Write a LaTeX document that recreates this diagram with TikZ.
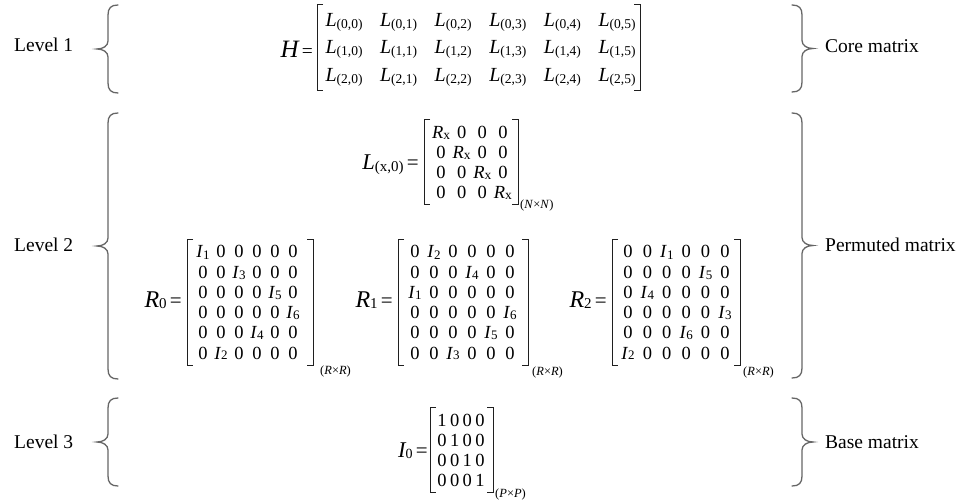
\documentclass[tikz,border=0pt]{standalone}
\usepackage{fontspec}
\setmainfont{Liberation Serif}
\usetikzlibrary{matrix}
\newcommand\fsz[1]{\fontsize{#1}{#1}\selectfont}
\newcommand\Lsb[1]{\textit{L}\raisebox{-2pt}{\fsz{13.5}(#1)}}
\newcommand\Isb[1]{\textit{I}\raisebox{-1pt}{\fsz{13}#1}}
\newcommand\Rxx{\textit{R}\raisebox{-1pt}{\fsz{13.5}x}}
\newcommand\lcurly[3]{%
  \pgfmathsetmacro\bmid{(#2+#3)/2}%
  \draw[brc] (#1,#2) .. controls (#1-7,#2) and (#1-10,#2+3) .. (#1-10,#2+10)
    -- (#1-10,\bmid-8) .. controls (#1-10,\bmid-3) and (#1-15,\bmid) .. (#1-21,\bmid)
    .. controls (#1-15,\bmid) and (#1-10,\bmid+3) .. (#1-10,\bmid+8)
    -- (#1-10,#3-10) .. controls (#1-10,#3-3) and (#1-7,#3) .. (#1,#3);}
\newcommand\rcurly[3]{%
  \pgfmathsetmacro\bmid{(#2+#3)/2}%
  \draw[brc] (#1,#2) .. controls (#1+7,#2) and (#1+10,#2+3) .. (#1+10,#2+10)
    -- (#1+10,\bmid-8) .. controls (#1+10,\bmid-3) and (#1+15,\bmid) .. (#1+21,\bmid)
    .. controls (#1+15,\bmid) and (#1+10,\bmid+3) .. (#1+10,\bmid+8)
    -- (#1+10,#3-10) .. controls (#1+10,#3-3) and (#1+7,#3) .. (#1,#3);}
\newcommand\mbrack[4]{%
  \draw[brk] (#1+6,#3) -- (#1,#3) -- (#1,#4) -- (#1+6,#4);
  \draw[brk] (#2-6,#3) -- (#2,#3) -- (#2,#4) -- (#2-6,#4);}
\begin{document}
\begin{tikzpicture}[x=1pt,y=-1pt,
  lbl/.style={inner sep=0pt, anchor=base west, font=\fsz{19.5}},
  eqlbl/.style={inner sep=0pt, anchor=base east, font=\fsz{19.5}},
  sizelbl/.style={inner sep=0pt, anchor=base west, font=\fsz{12.5}},
  brc/.style={draw=black!60, line width=1.3pt, line cap=round},
  brk/.style={draw=black!88, line width=1pt},
  cell/.style={inner sep=0pt, minimum width=#1, text height=14pt, text depth=2pt, font=\fsz{18.5}},
  hcell/.style={inner sep=0pt, minimum width=54.6pt, text height=14pt, text depth=2pt, font=\fsz{20}}]
\useasboundingbox (0,0) rectangle (963,502);

% level labels
\node[lbl] (lv1) at (14,52) {Level 1};
\node[lbl] (lv2) at (14,252) {Level 2};
\node[lbl] (lv3) at (14,448) {Level 3};
\node[lbl] (core) at (825,53) {Core matrix};
\node[lbl] (perm) at (825,252) {Permuted matrix};
\node[lbl] (base) at (825,448) {Base matrix};

% braces
\lcurly{118}{5}{93}
\lcurly{118}{113}{379}
\lcurly{118}{398}{486}
\rcurly{792}{5}{92}
\rcurly{792}{113}{378}
\rcurly{792}{398}{486}

% H matrix
\node[eqlbl] (Hlab) at (313,58) {{\fsz{25}\itshape H}\,=};
\matrix (mH) [matrix of nodes, nodes={hcell}, row sep=11.5pt, column sep=0pt] at (480.5,48) {
\Lsb{0,0} & \Lsb{0,1} & \Lsb{0,2} & \Lsb{0,3} & \Lsb{0,4} & \Lsb{0,5} \\
\Lsb{1,0} & \Lsb{1,1} & \Lsb{1,2} & \Lsb{1,3} & \Lsb{1,4} & \Lsb{1,5} \\
\Lsb{2,0} & \Lsb{2,1} & \Lsb{2,2} & \Lsb{2,3} & \Lsb{2,4} & \Lsb{2,5} \\
};
\mbrack{317}{640}{5}{91}

% L(x,0) matrix
\node[eqlbl] (Llab) at (419,170) {{\fsz{22.5}\itshape L}\raisebox{-2pt}{\fsz{15}(x,0)}\,{\fsz{21}=}};
\matrix (mL) [matrix of nodes, nodes={cell=20.6pt}, row sep=4.3pt, column sep=0pt] at (472,162.5) {
\Rxx & 0 & 0 & 0 \\
0 & \Rxx & 0 & 0 \\
0 & 0 & \Rxx & 0 \\
0 & 0 & 0 & \Rxx \\
};
\mbrack{424}{518}{120}{205}
\node[sizelbl] (sL) at (520,209) {(\textit{N}×\textit{N})};

% R0
\node[eqlbl] (R0lab) at (182,308) {{\fsz{24}\itshape R}\raisebox{-1pt}{\fsz{15}0}\,{\fsz{21}=}};
\matrix (mR0) [matrix of nodes, nodes={cell=18pt}, row sep=4.2pt, column sep=0pt] at (248,302.5) {
\Isb{1} & 0 & 0 & 0 & 0 & 0 \\
0 & 0 & \Isb{3} & 0 & 0 & 0 \\
0 & 0 & 0 & 0 & \Isb{5} & 0 \\
0 & 0 & 0 & 0 & 0 & \Isb{6} \\
0 & 0 & 0 & \Isb{4} & 0 & 0 \\
0 & \Isb{2} & 0 & 0 & 0 & 0 \\
};
\mbrack{187}{313}{240}{365}
\node[sizelbl] (sR0) at (320,374) {(\textit{R}×\textit{R})};

% R1
\node[eqlbl] (R1lab) at (393,308) {{\fsz{24}\itshape R}\raisebox{-1pt}{\fsz{15}1}\,{\fsz{21}=}};
\matrix (mR1) [matrix of nodes, nodes={cell=19pt}, row sep=4.2pt, column sep=0pt] at (462.5,302.5) {
0 & \Isb{2} & 0 & 0 & 0 & 0 \\
0 & 0 & 0 & \Isb{4} & 0 & 0 \\
\Isb{1} & 0 & 0 & 0 & 0 & 0 \\
0 & 0 & 0 & 0 & 0 & \Isb{6} \\
0 & 0 & 0 & 0 & \Isb{5} & 0 \\
0 & 0 & \Isb{3} & 0 & 0 & 0 \\
};
\mbrack{398}{528}{240}{365}
\node[sizelbl] (sR1) at (532,375) {(\textit{R}×\textit{R})};

% R2
\node[eqlbl] (R2lab) at (607,308) {{\fsz{24}\itshape R}\raisebox{-1pt}{\fsz{15}2}\,{\fsz{21}=}};
\matrix (mR2) [matrix of nodes, nodes={cell=19.4pt}, row sep=4.2pt, column sep=0pt] at (676.5,302.5) {
0 & 0 & \Isb{1} & 0 & 0 & 0 \\
0 & 0 & 0 & 0 & \Isb{5} & 0 \\
0 & \Isb{4} & 0 & 0 & 0 & 0 \\
0 & 0 & 0 & 0 & 0 & \Isb{3} \\
0 & 0 & 0 & \Isb{6} & 0 & 0 \\
\Isb{2} & 0 & 0 & 0 & 0 & 0 \\
};
\mbrack{612}{740}{240}{365}
\node[sizelbl] (sR2) at (743,375) {(\textit{R}×\textit{R})};

% I0
\node[eqlbl] (I0lab) at (428,457) {{\fsz{22.5}\itshape I}\raisebox{-1pt}{\fsz{14}0}\,{\fsz{21}=}};
\matrix (mI) [matrix of nodes, nodes={cell=12.7pt}, row sep=4pt, column sep=0pt] at (461,450) {
1 & 0 & 0 & 0 \\
0 & 1 & 0 & 0 \\
0 & 0 & 1 & 0 \\
0 & 0 & 0 & 1 \\
};
\mbrack{430}{493}{407}{492}
\node[sizelbl] (sI) at (495,497) {(\textit{P}×\textit{P})};
\end{tikzpicture}
\end{document}
